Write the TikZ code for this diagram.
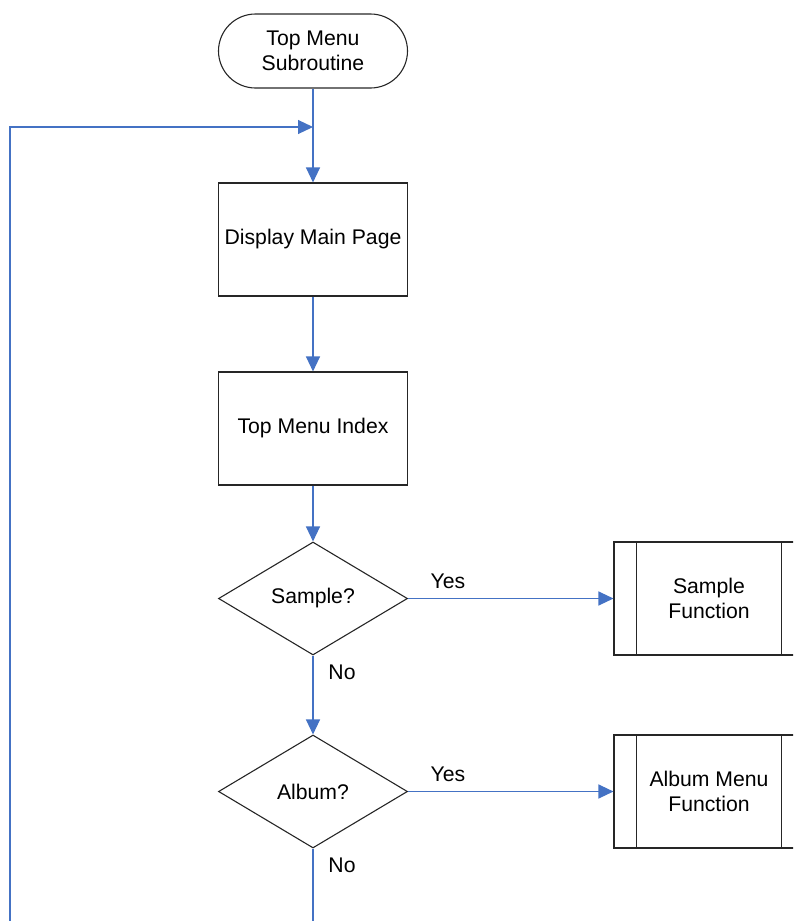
\documentclass[tikz,border=0pt]{standalone}
\usepackage{fontspec}
\setmainfont{Liberation Sans}
\usetikzlibrary{shapes.geometric,arrows.meta}
\definecolor{flowblue}{HTML}{4472C4}
\begin{document}
\begin{tikzpicture}[x=1pt,y=-1pt,
  every node/.style={font=\fontsize{21.2}{25.5}\selectfont, align=center, text=black},
  shapebox/.style={draw=black!85, line width=1.1pt, rectangle, inner sep=0pt, minimum width=189pt, minimum height=113pt},
  termbox/.style={draw=black!85, line width=1.1pt, rectangle, rounded corners=37pt, inner sep=0pt, minimum width=189pt, minimum height=74pt},
  decbox/.style={draw=black!85, line width=1.1pt, diamond, inner sep=0pt, minimum width=189pt, minimum height=113pt},
  procbox/.style={draw=black!85, line width=1.1pt, rectangle, inner sep=0pt, minimum width=190pt, minimum height=113pt},
  arr/.style={draw=flowblue, line width=1.2pt, -{Triangle[length=15pt,width=14pt]}},
  plain/.style={draw=flowblue, line width=1.2pt},
  lbl/.style={inner sep=0pt}
]
\useasboundingbox (0,0) rectangle (793,921);
\clip (0,0) rectangle (793,921);

\node[termbox] (term) at (313,51) {Top Menu\\Subroutine};
\node[shapebox] (disp) at (313,239.5) {Display Main Page};
\node[shapebox] (idx) at (313,428.5) {Top Menu Index};
\node[decbox] (samp) at (313,598.5) {Sample?};
\node[decbox] (alb) at (313,791.5) {Album?};
\node[procbox] (sfun) at (709,598.5) {Sample\\Function};
\node[procbox] (afun) at (709,791.5) {Album Menu\\Function};
\draw[draw=black!85, line width=1.1pt] ([xshift=23pt]sfun.north west) -- ([xshift=23pt]sfun.south west)
  ([xshift=-23pt]sfun.north east) -- ([xshift=-23pt]sfun.south east);
\draw[draw=black!85, line width=1.1pt] ([xshift=23pt]afun.north west) -- ([xshift=23pt]afun.south west)
  ([xshift=-23pt]afun.north east) -- ([xshift=-23pt]afun.south east);

\coordinate (join) at (313,127);
\coordinate (lefttop) at (10,127);
\coordinate (leftbot) at (10,921);
\coordinate (bottom) at (313,921);

\draw[arr] (term.south) -- (disp.north);
\draw[arr] (leftbot) -- (lefttop) -- (join);
\draw[arr] (disp.south) -- (idx.north);
\draw[arr] (idx.south) -- (samp.north);
\draw[arr] (samp.east) -- (sfun.west);
\draw[arr] (samp.south) -- (alb.north);
\draw[arr] (alb.east) -- (afun.west);
\draw[plain] (alb.south) -- (bottom);

\node[lbl] (y1) at (448,581) {Yes};
\node[lbl] (n1) at (342,672) {No};
\node[lbl] (y2) at (448,774) {Yes};
\node[lbl] (n2) at (342,865) {No};
\end{tikzpicture}
\end{document}
